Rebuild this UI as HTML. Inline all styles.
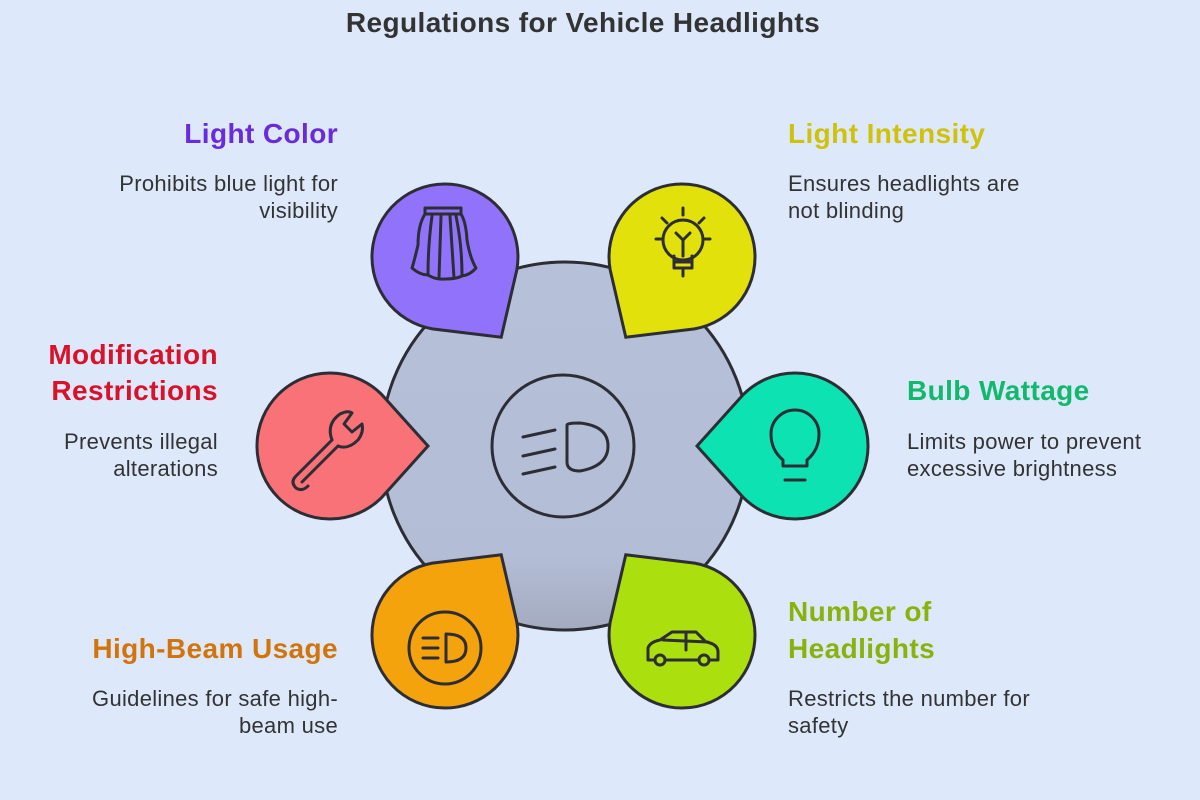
<!DOCTYPE html>
<html><head><meta charset="utf-8"><style>
body{margin:0;background:#dde9fb;}
svg{display:block}
text{font-family:"Liberation Sans",sans-serif;}
.t{font-size:28px;font-weight:bold;letter-spacing:0.4px}
.d{font-size:22px;fill:#333;letter-spacing:0.3px}
</style></head><body>
<svg width="1200" height="800" viewBox="0 0 1200 800">
<defs>
<linearGradient id="g" x1="0" y1="0" x2="0" y2="1"><stop offset="0" stop-color="#b6c1d9"/><stop offset="0.8" stop-color="#b3bdd5"/><stop offset="1" stop-color="#a4abc0"/></linearGradient>
<path id="tear" d="M51.6,-51.6 L98,0 L51.6,51.6 A73,73 0 1 1 51.6,-51.6 Z"/>
</defs>
<text x="583" y="32" text-anchor="middle" style="font-size:28px;font-weight:bold;fill:#333;letter-spacing:0.4px">Regulations for Vehicle Headlights</text>
<circle cx="565" cy="446" r="184" fill="url(#g)" stroke="#2d2d35" stroke-width="3"/>
<circle cx="563" cy="446" r="71" fill="none" stroke="#2d2d35" stroke-width="3"/>
<g fill="none" stroke="#2d2d35" stroke-width="3" stroke-linecap="round">
<path d="M523,437 L555,430 M523,456 L555,449 M523,474 L555,467"/>
<path d="M567,425 Q567,423 580,423 Q608,426 608,446 Q608,466 580,471 Q567,471 567,462 Z"/>
</g>
<g stroke="#2d2d35" stroke-width="3">
<use href="#tear" transform="translate(445,257) rotate(55)" fill="#9173fb"/>
<use href="#tear" transform="translate(682,257) rotate(125)" fill="#e3e10c"/>
<use href="#tear" transform="translate(795,446) rotate(180)" fill="#0de2b2"/>
<use href="#tear" transform="translate(682,635) rotate(235)" fill="#abdf0e"/>
<use href="#tear" transform="translate(445,635) rotate(-55)" fill="#f4a30c"/>
<use href="#tear" transform="translate(330,446) rotate(0)" fill="#f97277"/>
</g>
<g fill="none" stroke="#2d2d35" stroke-width="3" stroke-linecap="round" stroke-linejoin="round">
<path d="M425,208 L461,208 L461,214 L425,214 Z"/>
<path d="M425,214 Q418,225 418,245 Q414,262 412,268 Q420,275 428,275 Q436,280 445,279 Q456,279 462,276 Q470,275 476,268 Q470,258 467,240 Q466,222 461,214"/>
<path d="M432,216 Q428,245 428,275 M441,216 L439,278 M450,216 Q452,245 454,278 M456,216 Q462,245 462,275"/>
<circle cx="683" cy="240" r="20"/>
<path d="M674,256 L674,268 L692,268 L692,256 M674,262 L692,262 M683,268 L683,276 M683,256 L683,240 M676,233 L683,240 L690,233"/>
<path d="M683,208 L683,215 M656,239 L663,239 M703,239 L710,239 M662,218 L667,223 M704,218 L699,223"/>
<path d="M783,460 Q771,450 771,434 A24,24 0 0 1 819,434 Q819,450 807,460 L807,466 L783,466 Z"/>
<path d="M785,480 L805,480"/>
<path d="M648,660 L648,648 Q650,642 660,640 L672,632 L696,632 L706,642 Q718,644 718,652 L718,660 Z M663,640 L708,642 M686,632 L686,650"/>
<circle cx="660" cy="660" r="5" fill="#abdf0e"/><circle cx="704" cy="660" r="5" fill="#abdf0e"/>
<circle cx="445" cy="648" r="36"/>
<path d="M423,638 L438,638 M423,648 L438,648 M423,658 L438,658"/>
<path d="M446,634 Q466,634 466,648 Q466,662 446,662 Z"/>
<path d="M296,476 L332,440 M302,482 L338,446 M296,476 Q290,482 296,488 Q302,492 308,486"/>
<path d="M332,440 Q326,424 340,414 Q348,410 352,413 L344,424 L352,432 L362,424 Q364,432 358,440 Q348,450 338,446"/>
</g>
<text class="t" x="338" y="143" text-anchor="end" fill="#6a2bdb">Light Color</text>
<text class="d" x="338" y="191" text-anchor="end">Prohibits blue light for</text>
<text class="d" x="338" y="218" text-anchor="end">visibility</text>
<text class="t" x="788" y="143" fill="#d0c20a">Light Intensity</text>
<text class="d" x="788" y="191">Ensures headlights are</text>
<text class="d" x="788" y="218">not blinding</text>
<text class="t" x="218" y="364" text-anchor="end" fill="#d81229">Modification</text>
<text class="t" x="218" y="400" text-anchor="end" fill="#d81229">Restrictions</text>
<text class="d" x="218" y="449" text-anchor="end">Prevents illegal</text>
<text class="d" x="218" y="476" text-anchor="end">alterations</text>
<text class="t" x="907" y="400" fill="#12b86c">Bulb Wattage</text>
<text class="d" x="907" y="449">Limits power to prevent</text>
<text class="d" x="907" y="476">excessive brightness</text>
<text class="t" x="338" y="658" text-anchor="end" fill="#d2730b">High-Beam Usage</text>
<text class="d" x="338" y="706" text-anchor="end">Guidelines for safe high-</text>
<text class="d" x="338" y="733" text-anchor="end">beam use</text>
<text class="t" x="788" y="621" fill="#88b30c">Number of</text>
<text class="t" x="788" y="658" fill="#88b30c">Headlights</text>
<text class="d" x="788" y="706">Restricts the number for</text>
<text class="d" x="788" y="733">safety</text>
</svg>
</body></html>
